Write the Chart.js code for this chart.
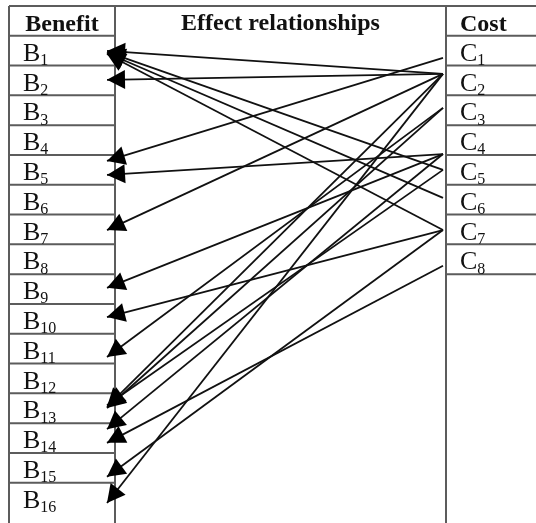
<!DOCTYPE html>
<html>
<head>
<meta charset="utf-8">
<script src="https://cdn.jsdelivr.net/npm/chart.js@4.4.1/dist/chart.umd.min.js"></script>
<style>
  body { margin: 0; background: #fff; }
  canvas { display: block; }
</style>
</head>
<body>
<canvas id="diagram" width="536" height="523"></canvas>
<script>
// headers of the three columns
var headers = ["Benefit", "Effect relationships", "Cost"];
var benefitLabels = ["B1","B2","B3","B4","B5","B6","B7","B8","B9","B10","B11","B12","B13","B14","B15","B16"];
var costLabels = ["C1","C2","C3","C4","C5","C6","C7","C8"];

// where each cost's lines start (row units)
var costAnchor = [1.74, 2.28, 3.42, 4.97, 5.5, 6.44, 7.52, 8.72];

// one entry per arrow: cost number -> arrow tip (row units on benefit side)
var edgeCost = [2, 5, 6, 7, 2, 1, 4, 2, 4, 7, 3, 2, 3, 5, 4, 8, 7, 2];
var edgeTip  = [1.51, 1.54, 1.58, 1.61, 2.48, 5.2, 5.67, 7.52, 9.46, 10.44, 11.78, 13.45, 13.49, 13.4, 14.2, 14.66, 15.8, 16.68];

var colLeft = 9, colBenefit = 115, colCost = 446, colRight = 536;
var tipX = 107, srcX = 443;

var datasets = [];
for (var i = 0; i < edgeCost.length; i++) {
  datasets.push({
    data: [{ x: srcX, y: costAnchor[edgeCost[i] - 1] }, { x: tipX, y: edgeTip[i] }],
    showLine: true,
    borderColor: "#111",
    borderWidth: 1.8,
    pointRadius: 0,
    fill: false
  });
}

var tablePlugin = {
  id: "table",
  beforeDatasetsDraw: function(chart) {
    var ctx = chart.ctx, xs = chart.scales.x, ys = chart.scales.y;
    var X = function(v) { return xs.getPixelForValue(v); };
    var Y = function(v) { return ys.getPixelForValue(v); };
    ctx.save();
    ctx.fillStyle = "#fff";
    ctx.fillRect(0, 0, chart.width, chart.height);

    ctx.strokeStyle = "#5c5c5c";
    ctx.lineWidth = 2;
    ctx.beginPath();
    // top border
    ctx.moveTo(X(colLeft), Y(0)); ctx.lineTo(X(colRight), Y(0));
    // verticals
    [colLeft, colBenefit, colCost].forEach(function(c) {
      ctx.moveTo(X(c), Y(0)); ctx.lineTo(X(c), chart.height);
    });
    // benefit rows
    for (var r = 1; r <= benefitLabels.length; r++) {
      ctx.moveTo(X(colLeft), Y(r)); ctx.lineTo(X(colBenefit), Y(r));
    }
    // cost rows
    for (var r = 1; r <= costLabels.length + 1; r++) {
      ctx.moveTo(X(colCost), Y(r)); ctx.lineTo(X(colRight), Y(r));
    }
    ctx.stroke();

    ctx.fillStyle = "#111";
    ctx.font = "bold 24px 'Liberation Serif', 'Times New Roman', serif";
    ctx.textBaseline = "alphabetic";
    ctx.textAlign = "center";
    ctx.fillText(headers[0], X((colLeft + colBenefit) / 2), Y(0.84));
    ctx.fillText(headers[1], X((colBenefit + colCost) / 2), Y(0.81));
    ctx.textAlign = "left";
    ctx.fillText(headers[2], X(460), Y(0.84));

    var drawLabel = function(txt, x, row) {
      ctx.font = "26px 'Liberation Serif', 'Times New Roman', serif";
      var main = txt.charAt(0);
      ctx.fillText(main, X(x), Y(row + 0.84));
      var w = ctx.measureText(main).width;
      ctx.font = "16px 'Liberation Serif', 'Times New Roman', serif";
      ctx.fillText(txt.slice(1), X(x) + w, Y(row + 0.98));
    };
    benefitLabels.forEach(function(t, i) { drawLabel(t, 23, i + 1); });
    costLabels.forEach(function(t, i) { drawLabel(t, 460, i + 1); });
    ctx.restore();
  }
};

var arrowPlugin = {
  id: "arrows",
  afterDatasetsDraw: function(chart) {
    var ctx = chart.ctx;
    ctx.save();
    ctx.fillStyle = "#000";
    chart.data.datasets.forEach(function(ds, i) {
      var pts = chart.getDatasetMeta(i).data;
      var a = pts[0], b = pts[1];
      var dx = a.x - b.x, dy = a.y - b.y;
      var len = Math.sqrt(dx * dx + dy * dy);
      var ux = dx / len, uy = dy / len;
      var L = 18, W = 9.5;
      ctx.beginPath();
      ctx.moveTo(b.x, b.y);
      ctx.lineTo(b.x + ux * L - uy * W, b.y + uy * L + ux * W);
      ctx.lineTo(b.x + ux * L + uy * W, b.y + uy * L - ux * W);
      ctx.closePath();
      ctx.fill();
    });
    ctx.restore();
  }
};

var ctx = document.getElementById("diagram").getContext("2d");
var chart = new Chart(ctx, {
  type: "scatter",
  data: { datasets: datasets },
  options: {
    responsive: false,
    animation: false,
    layout: { padding: 0 },
    plugins: { legend: { display: false }, tooltip: { enabled: false } },
    scales: {
      x: { type: "linear", min: 0, max: 536, display: false },
      y: { type: "linear", min: -0.2, max: 17.35, reverse: true, display: false }
    }
  },
  plugins: [tablePlugin, arrowPlugin]
});
</script>
</body>
</html>
